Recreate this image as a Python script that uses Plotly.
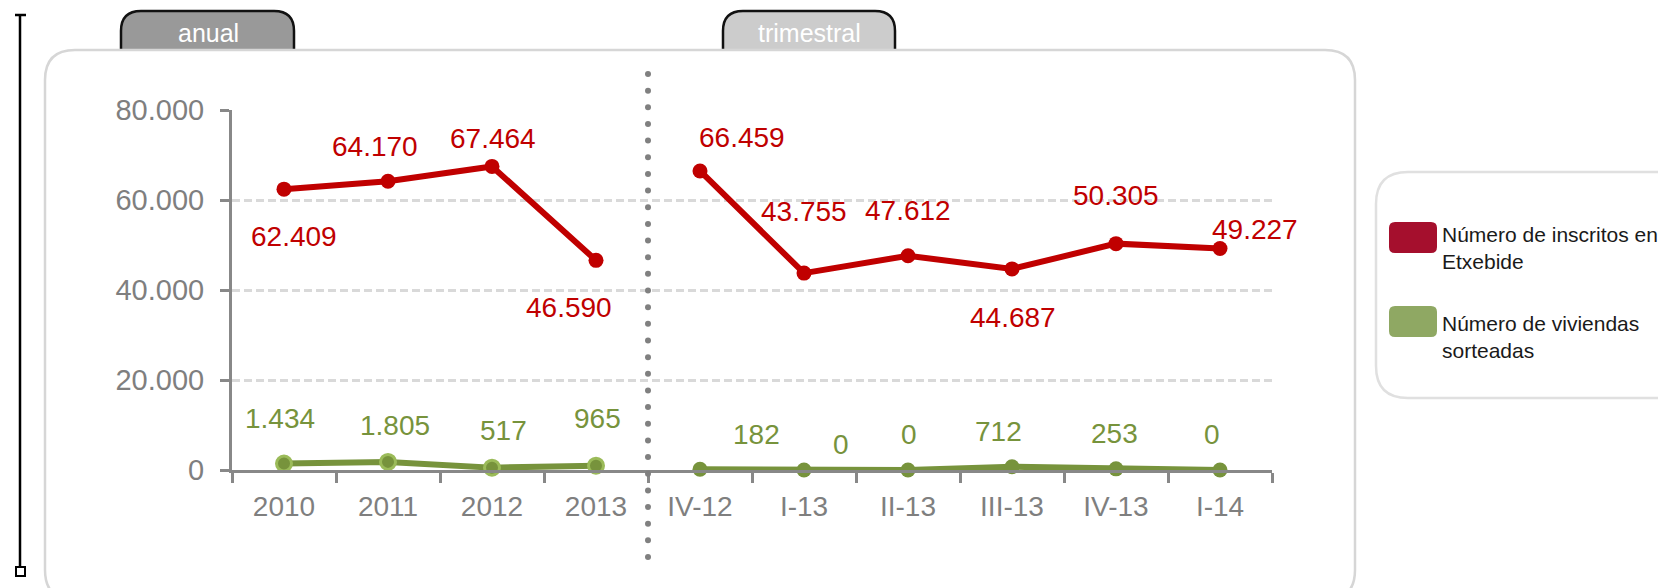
import plotly.graph_objects as go

# ---------------- data ----------------
categories = ["2010", "2011", "2012", "2013", "IV-12", "I-13", "II-13", "III-13", "IV-13", "I-14"]
annual_cats = categories[:4]
quarter_cats = categories[4:]
inscritos = [62409, 64170, 67464, 46590, 66459, 43755, 47612, 44687, 50305, 49227]
viviendas = [1434, 1805, 517, 965, 182, 0, 0, 712, 253, 0]
y_ticks = [0, 20000, 40000, 60000, 80000]
series_names = ["Número de inscritos en<br>Etxebide", "Número de viviendas<br>sorteadas"]
tab_labels = ["anual", "trimestral"]

# label offsets (pixels) for data labels
red_shift = [(10, -47), (-13, 35), (1, 28), (-27, -47), (42, 33), (0, 62), (0, 45), (1, -49), (0, 48), (35, 19)]
green_shift = [(-4, 45), (7, 36), (11, 37), (1, 47), (56, 35), (37, 26), (1, 36), (-14, 35), (-2, 35), (-8, 36)]

# page offset (browser body margin) compensation
OFF = 8
W, H = 1666 - OFF, 588 - OFF
RED = "#C00000"
GREEN = "#77933C"
GREEN_LIGHT = "#9BBB59"
GRAY = "#888888"
FONT = "Liberation Sans, Arial, sans-serif"


def px(x):
    return (x - OFF) / W


def py(y):
    return 1 - (y - OFF) / H


# plot area in screen pixels
X0, X1 = 232, 1272
Y0, Y1 = 470, 110

fig = go.Figure()

fig.add_trace(go.Scatter(x=annual_cats, y=inscritos[:4], mode="lines+markers",
                         line=dict(color=RED, width=6), marker=dict(size=15, color=RED),
                         cliponaxis=False, showlegend=False, hoverinfo="x+y"))
fig.add_trace(go.Scatter(x=quarter_cats, y=inscritos[4:], mode="lines+markers",
                         line=dict(color=RED, width=6), marker=dict(size=15, color=RED),
                         cliponaxis=False, showlegend=False, hoverinfo="x+y"))
fig.add_trace(go.Scatter(x=annual_cats, y=viviendas[:4], mode="lines+markers",
                         line=dict(color=GREEN, width=6),
                         marker=dict(size=15, color=GREEN, line=dict(color=GREEN_LIGHT, width=3)),
                         cliponaxis=False, showlegend=False, hoverinfo="x+y"))
fig.add_trace(go.Scatter(x=quarter_cats, y=viviendas[4:], mode="lines+markers",
                         line=dict(color=GREEN, width=6), marker=dict(size=15, color=GREEN),
                         cliponaxis=False, showlegend=False, hoverinfo="x+y"))

annotations = []
for i, (v, (dx, dy)) in enumerate(zip(inscritos, red_shift)):
    annotations.append(dict(x=i, y=v, xref="x", yref="y", text=f"{v:,}".replace(",", "."),
                            showarrow=False, xshift=dx, yshift=dy,
                            font=dict(family=FONT, size=28, color=RED)))
for i, (v, (dx, dy)) in enumerate(zip(viviendas, green_shift)):
    annotations.append(dict(x=i, y=v, xref="x", yref="y", text=f"{v:,}".replace(",", "."),
                            showarrow=False, xshift=dx, yshift=dy,
                            font=dict(family=FONT, size=28, color=GREEN)))

shapes = []


def rounded_rect(x0, y0, x1, y1, r):
    return (f"M {px(x0 + r)} {py(y0)} L {px(x1 - r)} {py(y0)} "
            f"Q {px(x1)} {py(y0)} {px(x1)} {py(y0 + r)} "
            f"L {px(x1)} {py(y1 - r)} Q {px(x1)} {py(y1)} {px(x1 - r)} {py(y1)} "
            f"L {px(x0 + r)} {py(y1)} Q {px(x0)} {py(y1)} {px(x0)} {py(y1 - r)} "
            f"L {px(x0)} {py(y0 + r)} Q {px(x0)} {py(y0)} {px(x0 + r)} {py(y0)} Z")


def tab_path(x0, y0, x1, y1, r):
    return (f"M {px(x0)} {py(y1)} L {px(x0)} {py(y0 + r)} "
            f"Q {px(x0)} {py(y0)} {px(x0 + r)} {py(y0)} "
            f"L {px(x1 - r)} {py(y0)} Q {px(x1)} {py(y0)} {px(x1)} {py(y0 + r)} "
            f"L {px(x1)} {py(y1)}")


# tabs (drawn first, panel border over their bottom edge)
shapes.append(dict(type="path", xref="paper", yref="paper", path=tab_path(121, 11, 294, 50, 20),
                   line=dict(color="#111111", width=2.5), fillcolor="#999999", layer="below"))
shapes.append(dict(type="path", xref="paper", yref="paper", path=tab_path(723, 11, 895, 50, 20),
                   line=dict(color="#111111", width=2.5), fillcolor="#cccccc", layer="below"))
# main panel
shapes.append(dict(type="path", xref="paper", yref="paper", path=rounded_rect(45, 50, 1355, 600, 30),
                   line=dict(color="#d6d6d6", width=2.5), fillcolor="rgba(0,0,0,0)", layer="below"))
# legend box
shapes.append(dict(type="path", xref="paper", yref="paper", path=rounded_rect(1376, 172, 1700, 398, 32),
                   line=dict(color="#e0e0e0", width=2.5), fillcolor="white", layer="below"))
# legend swatches
shapes.append(dict(type="path", xref="paper", yref="paper", path=rounded_rect(1389, 222, 1437, 253, 6),
                   line=dict(width=0), fillcolor="#A50F2D"))
shapes.append(dict(type="path", xref="paper", yref="paper", path=rounded_rect(1389, 306, 1437, 337, 6),
                   line=dict(width=0), fillcolor="#8FA863"))
# left bracket
shapes.append(dict(type="line", xref="paper", yref="paper", x0=px(20), x1=px(20), y0=py(15), y1=py(567),
                   line=dict(color="black", width=2.5)))
shapes.append(dict(type="line", xref="paper", yref="paper", x0=px(15), x1=px(26), y0=py(15), y1=py(15),
                   line=dict(color="black", width=2.5)))
shapes.append(dict(type="rect", xref="paper", yref="paper", x0=px(16), x1=px(25), y0=py(567), y1=py(576),
                   line=dict(color="black", width=2), fillcolor="white"))
# dotted separator between annual and quarterly
n_dots = 30
for i in range(n_dots):
    yc = 74 + i * (557 - 74) / (n_dots - 1)
    shapes.append(dict(type="circle", xref="x", yref="paper",
                       xsizemode="pixel", xanchor=3.5, x0=-3, x1=3,
                       y0=py(yc + 3), y1=py(yc - 3),
                       line=dict(width=0), fillcolor="#808080"))

# tab labels
annotations.append(dict(x=px(208), y=py(33), xref="paper", yref="paper", text=tab_labels[0], showarrow=False,
                        xanchor="center", yanchor="middle",
                        font=dict(family=FONT, size=25, color="white")))
annotations.append(dict(x=px(809), y=py(33), xref="paper", yref="paper", text=tab_labels[1], showarrow=False,
                        xanchor="center", yanchor="middle",
                        font=dict(family=FONT, size=25, color="white")))
# legend labels
annotations.append(dict(x=px(1440), y=py(248), xref="paper", yref="paper", text=series_names[0],
                        showarrow=False, xanchor="left", yanchor="middle", align="left",
                        font=dict(family=FONT, size=21, color="#1a1a1a")))
annotations.append(dict(x=px(1440), y=py(337), xref="paper", yref="paper", text=series_names[1],
                        showarrow=False, xanchor="left", yanchor="middle", align="left",
                        font=dict(family=FONT, size=21, color="#1a1a1a")))

fig.update_layout(
    width=W, height=H,
    margin=dict(l=0, r=0, t=0, b=0, pad=0),
    paper_bgcolor="white", plot_bgcolor="white",
    separators=",.",
    shapes=shapes, annotations=annotations,
    xaxis=dict(domain=[px(X0), px(X1)], type="category", categoryorder="array", categoryarray=categories,
               range=[-0.5, 9.5], showline=True, linecolor=GRAY, linewidth=3, automargin=False,
               ticks="outside", tickson="boundaries", ticklen=10, tickwidth=3, tickcolor=GRAY,
               showgrid=False, zeroline=False, ticklabelstandoff=9,
               tickfont=dict(family=FONT, size=28, color="#7f7f7f")),
    yaxis=dict(domain=[py(Y0), py(Y1)], range=[0, 80000], tickvals=y_ticks, tickformat=",d",
               showline=True, linecolor=GRAY, linewidth=3, automargin=False,
               ticks="outside", ticklen=9, tickwidth=3, tickcolor=GRAY,
               showgrid=True, gridcolor="#d9d9d9", gridwidth=3, griddash="8px,4px",
               zeroline=False, ticklabelstandoff=10,
               tickfont=dict(family=FONT, size=29, color="#7f7f7f")),
)

fig.write_html("out.html")
